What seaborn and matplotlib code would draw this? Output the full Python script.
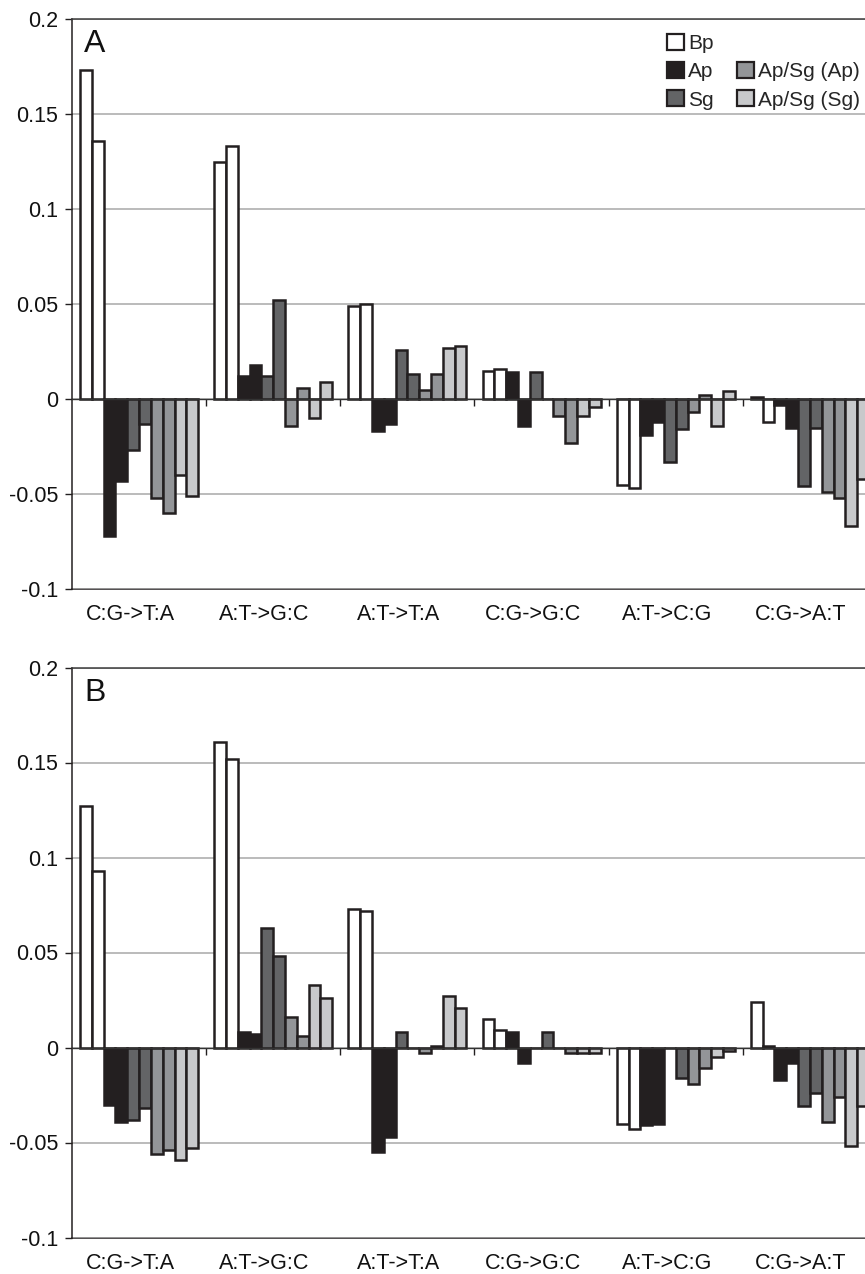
import numpy as np
import pandas as pd
import matplotlib
matplotlib.use("Agg")
import matplotlib.pyplot as plt
from matplotlib.patches import Patch
from matplotlib.transforms import ScaledTranslation
import seaborn as sns

# Mutation classes on the x axis
CATEGORIES = ["C:G->T:A", "A:T->G:C", "A:T->T:A", "C:G->G:C", "A:T->C:G", "C:G->A:T"]

# Panel A: two replicate values per mutation class for each group
A_BP = [(0.173, 0.136), (0.125, 0.133), (0.049, 0.050), (0.015, 0.016), (-0.045, -0.047), (0.001, -0.012)]
A_AP = [(-0.072, -0.043), (0.012, 0.018), (-0.017, -0.013), (0.014, -0.014), (-0.019, -0.012), (-0.003, -0.015)]
A_SG = [(-0.027, -0.013), (0.012, 0.052), (0.026, 0.013), (0.014, 0.0), (-0.033, -0.016), (-0.046, -0.015)]
A_APSG_AP = [(-0.052, -0.060), (-0.014, 0.006), (0.005, 0.013), (-0.009, -0.023), (-0.007, 0.002), (-0.049, -0.052)]
A_APSG_SG = [(-0.040, -0.051), (-0.010, 0.009), (0.027, 0.028), (-0.009, -0.004), (-0.014, 0.004), (-0.067, -0.042)]

# Panel B
B_BP = [(0.127, 0.093), (0.161, 0.152), (0.073, 0.072), (0.015, 0.009), (-0.040, -0.043), (0.024, 0.001)]
B_AP = [(-0.030, -0.039), (0.008, 0.007), (-0.055, -0.047), (0.008, -0.008), (-0.041, -0.040), (-0.017, -0.008)]
B_SG = [(-0.038, -0.032), (0.063, 0.048), (0.008, 0.0), (0.0, 0.008), (0.0, -0.016), (-0.031, -0.024)]
B_APSG_AP = [(-0.056, -0.054), (0.016, 0.006), (-0.003, 0.001), (0.0, -0.003), (-0.019, -0.011), (-0.039, -0.026)]
B_APSG_SG = [(-0.059, -0.053), (0.033, 0.026), (0.027, 0.021), (-0.003, -0.003), (-0.005, -0.002), (-0.052, -0.031)]

GROUPS = ["Bp", "Ap", "Sg", "Ap/Sg (Ap)", "Ap/Sg (Sg)"]
Y_TICKS = [-0.1, -0.05, 0, 0.05, 0.1, 0.15, 0.2]
Y_TICK_LABELS = ["-0.1", "-0.05", "0", "0.05", "0.1", "0.15", "0.2"]

GROUP_COLORS = {
    "Bp": "#ffffff",
    "Ap": "#231f20",
    "Sg": "#636466",
    "Ap/Sg (Ap)": "#939598",
    "Ap/Sg (Sg)": "#c8c9cb",
}
EDGE = "#231f20"

SERIES_ORDER = [f"{g} {r}" for g in GROUPS for r in (1, 2)]
PALETTE = {f"{g} {r}": GROUP_COLORS[g] for g in GROUPS for r in (1, 2)}


def long_frame(bp, ap, sg, apsg_ap, apsg_sg):
    rows = []
    for group, pairs in zip(GROUPS, [bp, ap, sg, apsg_ap, apsg_sg]):
        for cat, pair in zip(CATEGORIES, pairs):
            for rep, v in enumerate(pair, start=1):
                rows.append({"mutation": cat, "series": f"{group} {rep}", "value": v})
    return pd.DataFrame(rows)


df_a = long_frame(A_BP, A_AP, A_SG, A_APSG_AP, A_APSG_SG)
df_b = long_frame(B_BP, B_AP, B_SG, B_APSG_AP, B_APSG_SG)

sns.set_style("white")
plt.rcParams["font.family"] = ["Liberation Sans", "DejaVu Sans"]

W, H = 865, 1274
fig = plt.figure(figsize=(W / 100, H / 100), dpi=100)


def px_axes(left, top, right, bottom):
    return fig.add_axes([left / W, 1 - bottom / H, (right - left) / W, (bottom - top) / H])


def draw_panel(ax, df, letter):
    sns.barplot(
        data=df, x="mutation", y="value", hue="series",
        order=CATEGORIES, hue_order=SERIES_ORDER, palette=PALETTE,
        width=0.88, gap=0, dodge=True, errorbar=None, saturation=1,
        edgecolor=EDGE, linewidth=1.8, legend=False, ax=ax,
    )
    ax.set_xlim(-0.5, 5.5)
    ax.set_ylim(-0.1, 0.2)
    ax.set_xlabel("")
    ax.set_ylabel("")

    # horizontal grid behind the bars
    ax.set_axisbelow(True)
    ax.yaxis.grid(True, color="#a8a8a8", linewidth=1.1)
    ax.xaxis.grid(False)

    # y axis
    ax.set_yticks(Y_TICKS)
    ax.set_yticklabels(Y_TICK_LABELS)
    ax.tick_params(axis="y", left=True, direction="out", length=5.4, width=1.0,
                   color=EDGE, labelsize=15.5, pad=4.5, labelcolor="#111111")

    # category axis crosses at zero, with boundary tick marks
    ax.spines["bottom"].set_position(("data", 0))
    ax.spines["bottom"].set_color("#333333")
    ax.spines["bottom"].set_linewidth(1.0)
    ax.set_xticks(np.arange(0.5, 5.6, 1.0))
    ax.set_xticklabels([])
    ax.tick_params(axis="x", bottom=True, direction="out", length=5, width=1.0, color=EDGE)

    ax.spines["left"].set_color(EDGE)
    ax.spines["left"].set_linewidth(1.1)
    ax.spines["top"].set_color("#3c3c3c")
    ax.spines["top"].set_linewidth(1.1)
    ax.spines["right"].set_visible(False)

    # category labels along the lower frame edge, nudged slightly left
    sec = ax.secondary_xaxis("bottom")
    sec.set_xticks(range(len(CATEGORIES)))
    sec.set_xticklabels(CATEGORIES)
    sec.tick_params(length=0, pad=11, labelsize=15.5, labelcolor="#111111")
    sec.spines["bottom"].set_color(EDGE)
    sec.spines["bottom"].set_linewidth(1.1)
    shift = ScaledTranslation(-6.5 / 72, 0, fig.dpi_scale_trans)
    for lab in sec.get_xticklabels():
        lab.set_transform(lab.get_transform() + shift)

    ax.text(0.015, 0.942, letter, transform=ax.transAxes, fontsize=23,
            va="baseline", ha="left", color="#111111")


ax_a = px_axes(72, 19, 877, 589)
ax_b = px_axes(72, 667.5, 877, 1237.5)
draw_panel(ax_a, df_a, "A")
draw_panel(ax_b, df_b, "B")

# legend: first column Bp/Ap/Sg, second column the Ap/Sg groups below an empty slot
def swatch(c):
    return Patch(facecolor=c, edgecolor=EDGE, linewidth=1.6)

handles = [swatch(GROUP_COLORS["Bp"]), swatch(GROUP_COLORS["Ap"]), swatch(GROUP_COLORS["Sg"]),
           Patch(facecolor="none", edgecolor="none"),
           swatch(GROUP_COLORS["Ap/Sg (Ap)"]), swatch(GROUP_COLORS["Ap/Sg (Sg)"])]
labels = ["Bp", "Ap", "Sg", "", "Ap/Sg (Ap)", "Ap/Sg (Sg)"]
fig.legend(handles, labels, ncol=2, loc="upper left",
           bbox_to_anchor=(667 / W, 1 - 34 / H), bbox_transform=fig.transFigure,
           frameon=False, fontsize=15, handlelength=0.82, handleheight=0.82,
           handletextpad=0.2, columnspacing=1.1, labelspacing=0.42,
           borderpad=0, borderaxespad=0)

fig.savefig("out.png", dpi=100)
